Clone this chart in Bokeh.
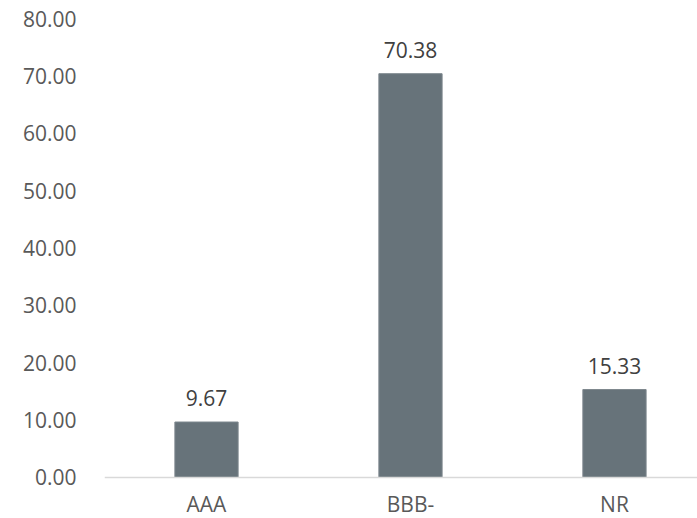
from bokeh.plotting import figure
from bokeh.models import Range1d, FixedTicker, ColumnDataSource, LabelSet, Span
from bokeh.core.properties import value
from bokeh.embed import file_html
from bokeh.resources import INLINE

categories = ["AAA", "BBB-", "NR"]
values = [9.67, 70.38, 15.33]
value_labels = ["9.67", "70.38", "15.33"]
y_ticks = [0, 10, 20, 30, 40, 50, 60, 70, 80]

xs = [i + 0.5 for i in range(len(categories))]
src = ColumnDataSource(dict(x=xs, top=values, lab=value_labels,
                            cat=categories, zero=[0] * len(categories)))

font = "Open Sans"
fsize = "21px"

p = figure(width=697, height=518, output_backend="svg", toolbar_location=None,
           x_range=Range1d(0, 2.907), y_range=Range1d(-7.146, 80),
           min_border_left=104, min_border_right=0, min_border_top=18, min_border_bottom=0)
p.outline_line_color = None
p.background_fill_color = "white"
p.border_fill_color = "white"
p.xgrid.visible = False
p.ygrid.visible = False

p.vbar(x="x", top="top", width=0.31, bottom=0, source=src,
       fill_color="#67737a", line_color="#7d878d", line_width=1)

p.add_layout(Span(location=0, dimension="width", line_color="#d9d9d9", line_width=1.5))

labels = LabelSet(x="x", y="top", text="lab", source=src, text_align="center",
                  text_baseline="middle", y_offset=24, text_font=value(font),
                  text_font_size=fsize, text_color="#404040")
p.add_layout(labels)

cat_labels = LabelSet(x="x", y="zero", text="cat", source=src, text_align="center",
                      text_baseline="middle", y_offset=-27, text_font=value(font),
                      text_font_size=fsize, text_color="#595959")
p.add_layout(cat_labels)

p.yaxis.ticker = FixedTicker(ticks=y_ticks)
p.yaxis.major_label_overrides = {t: f"{t:.2f}" for t in y_ticks}
p.yaxis.axis_line_color = None
p.yaxis.major_tick_line_color = None
p.yaxis.minor_tick_line_color = None
p.yaxis.major_label_standoff = 22
p.yaxis.major_label_text_font = font
p.yaxis.major_label_text_font_size = fsize
p.yaxis.major_label_text_color = "#595959"

p.xaxis.visible = False

html = file_html(p, INLINE)
html = html.replace("<head>", "<head><style>html,body{overflow:hidden}</style>", 1)
open("out.html", "w").write(html)
